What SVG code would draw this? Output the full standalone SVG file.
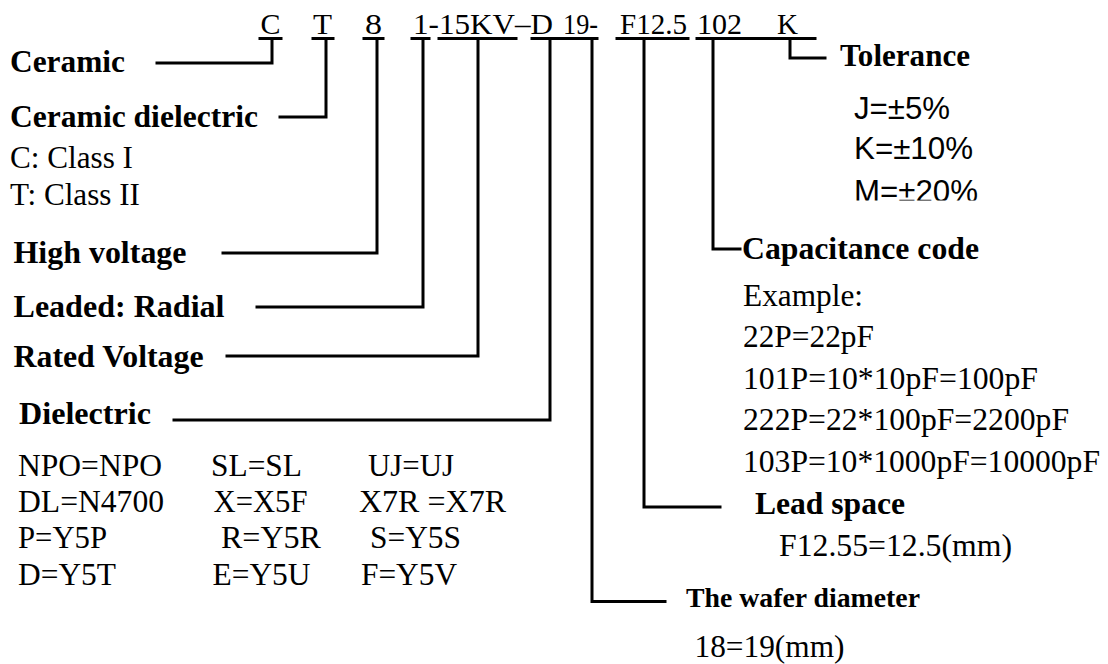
<svg xmlns="http://www.w3.org/2000/svg" width="1108" height="664" viewBox="0 0 1108 664">
<style>
.b{font-family:"Liberation Serif","Times New Roman",serif;font-weight:bold;font-size:32px;fill:#000}
.r{font-family:"Liberation Serif","Times New Roman",serif;font-size:31px;fill:#000}
.h{font-family:"Liberation Serif","Times New Roman",serif;font-size:30px;fill:#000}
.s{font-family:"Liberation Sans",Arial,sans-serif;font-size:31px;fill:#000}
.ln{fill:none;stroke:#000;stroke-width:3;stroke-linecap:square;stroke-linejoin:miter}
</style>
<defs>
<clipPath id="clipM"><rect x="840" y="170" width="160" height="30.5"/></clipPath>
</defs>
<rect width="1108" height="664" fill="#fff"/>

<g id="code">
<text class="h" x="260.5" y="34" textLength="20" lengthAdjust="spacingAndGlyphs">C</text>
<text class="h" x="313" y="34" textLength="19" lengthAdjust="spacingAndGlyphs">T</text>
<text class="h" x="365" y="34" textLength="17" lengthAdjust="spacingAndGlyphs">8</text>
<text class="h" x="413" y="34" textLength="140" lengthAdjust="spacingAndGlyphs">1-15KV–D</text>
<text class="h" x="563" y="34" textLength="35" lengthAdjust="spacingAndGlyphs">19-</text>
<text class="h" x="620" y="34" textLength="67" lengthAdjust="spacingAndGlyphs">F12.5</text>
<text class="h" x="697" y="34" textLength="45" lengthAdjust="spacingAndGlyphs">102</text>
<text class="h" x="777" y="34" textLength="21" lengthAdjust="spacingAndGlyphs">K</text>
</g>

<g id="connectors">
<path class="ln" d="M260 38.5H281 M313 38.5H333 M364 38.5H383 M412 38.5H429 M439 38.5H516 M532 38.5H563 M565 38.5H597 M617 38.5H688 M697 38.5H815"/>
<path class="ln" d="M272 38.5V63H157"/>
<path class="ln" d="M326 38.5V117H280"/>
<path class="ln" d="M377 38.5V253H223"/>
<path class="ln" d="M423 38.5V307H257"/>
<path class="ln" d="M478 38.5V356H227"/>
<path class="ln" d="M550 38.5V420H174"/>
<path class="ln" d="M592 38.5V601.5H665"/>
<path class="ln" d="M644 38.5V507H720"/>
<path class="ln" d="M713 38.5V249H740"/>
<path class="ln" d="M790 38.5V58H825"/>
</g>

<g id="ceramic"><text class="b" x="10" y="72" textLength="115" lengthAdjust="spacingAndGlyphs">Ceramic</text></g>
<g id="ceramic-dielectric">
<text class="b" x="10" y="127" textLength="248" lengthAdjust="spacingAndGlyphs">Ceramic dielectric</text>
<text class="r" x="10" y="168" textLength="123" lengthAdjust="spacingAndGlyphs">C: Class I</text>
<text class="r" x="10" y="205" textLength="130" lengthAdjust="spacingAndGlyphs">T: Class II</text>
</g>
<g id="high-voltage"><text class="b" x="13.5" y="263" textLength="173" lengthAdjust="spacingAndGlyphs">High voltage</text></g>
<g id="leaded"><text class="b" x="13.5" y="317" textLength="211" lengthAdjust="spacingAndGlyphs">Leaded: Radial</text></g>
<g id="rated-voltage"><text class="b" x="13.5" y="367" textLength="190" lengthAdjust="spacingAndGlyphs">Rated Voltage</text></g>
<g id="dielectric">
<text class="b" x="19" y="424" textLength="132" lengthAdjust="spacingAndGlyphs">Dielectric</text>
<text class="r" x="18" y="476" textLength="144" lengthAdjust="spacingAndGlyphs">NPO=NPO</text>
<text class="r" x="211" y="476" textLength="91" lengthAdjust="spacingAndGlyphs">SL=SL</text>
<text class="r" x="368" y="476" textLength="86" lengthAdjust="spacingAndGlyphs">UJ=UJ</text>
<text class="r" x="18" y="512" textLength="146" lengthAdjust="spacingAndGlyphs">DL=N4700</text>
<text class="r" x="213.5" y="512" textLength="94" lengthAdjust="spacingAndGlyphs">X=X5F</text>
<text class="r" x="359" y="512" textLength="147" lengthAdjust="spacingAndGlyphs">X7R =X7R</text>
<text class="r" x="18" y="548" textLength="89" lengthAdjust="spacingAndGlyphs">P=Y5P</text>
<text class="r" x="221" y="548" textLength="100" lengthAdjust="spacingAndGlyphs">R=Y5R</text>
<text class="r" x="370" y="548" textLength="91" lengthAdjust="spacingAndGlyphs">S=Y5S</text>
<text class="r" x="18" y="585" textLength="98" lengthAdjust="spacingAndGlyphs">D=Y5T</text>
<text class="r" x="212.5" y="585" textLength="98" lengthAdjust="spacingAndGlyphs">E=Y5U</text>
<text class="r" x="361" y="585" textLength="96" lengthAdjust="spacingAndGlyphs">F=Y5V</text>
</g>
<g id="tolerance">
<text class="b" x="840" y="66" textLength="130" lengthAdjust="spacingAndGlyphs">Tolerance</text>
<text class="s" x="854" y="119" textLength="96" lengthAdjust="spacingAndGlyphs">J=±5%</text>
<text class="s" x="854" y="159" textLength="119" lengthAdjust="spacingAndGlyphs">K=±10%</text>
<text class="s" x="854" y="201.5" textLength="124" lengthAdjust="spacingAndGlyphs" clip-path="url(#clipM)">M=±20%</text>
</g>
<g id="capacitance">
<text class="b" x="742" y="259" textLength="237" lengthAdjust="spacingAndGlyphs">Capacitance code</text>
<text class="r" x="743" y="306" textLength="120" lengthAdjust="spacingAndGlyphs">Example:</text>
<text class="r" x="743" y="347" textLength="131" lengthAdjust="spacingAndGlyphs">22P=22pF</text>
<text class="r" x="743" y="389" textLength="295" lengthAdjust="spacingAndGlyphs">101P=10*10pF=100pF</text>
<text class="r" x="743" y="430" textLength="326" lengthAdjust="spacingAndGlyphs">222P=22*100pF=2200pF</text>
<text class="r" x="743" y="472" textLength="357" lengthAdjust="spacingAndGlyphs">103P=10*1000pF=10000pF</text>
</g>
<g id="lead-space">
<text class="b" x="755" y="514" textLength="150" lengthAdjust="spacingAndGlyphs">Lead space</text>
<text class="r" x="779" y="556" textLength="233" lengthAdjust="spacingAndGlyphs">F12.55=12.5(mm)</text>
</g>
<g id="wafer-diameter">
<text class="b" x="686" y="607" style="font-size:26.5px" textLength="234" lengthAdjust="spacingAndGlyphs">The wafer diameter</text>
<text class="r" x="694.5" y="657" textLength="150" lengthAdjust="spacingAndGlyphs">18=19(mm)</text>
</g>
</svg>
